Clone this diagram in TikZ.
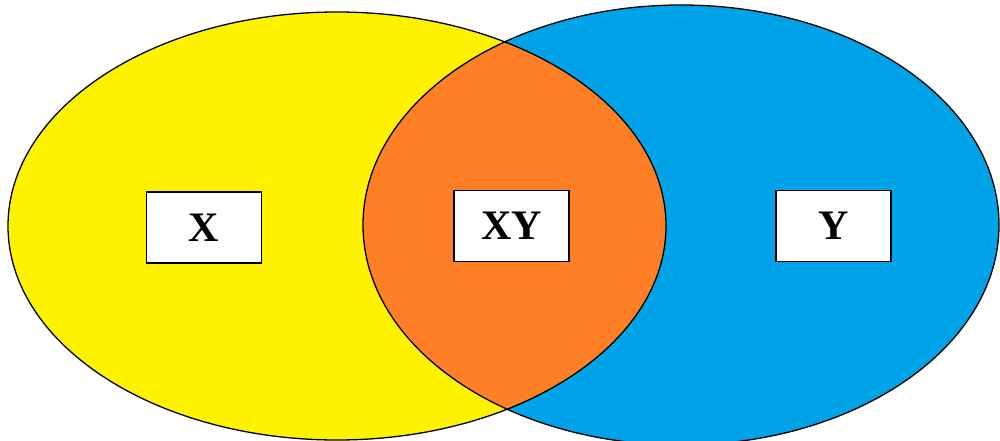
\documentclass[tikz,border=0pt]{standalone}
\usepackage{fontspec}
\setmainfont{Liberation Serif}
\definecolor{vyellow}{HTML}{FFF200}
\definecolor{vblue}{HTML}{00A2E8}
\definecolor{vorange}{HTML}{FF7F27}
\tikzset{
  setline/.style={draw=black, line width=1.3pt},
  labelbox/.style={draw=black, line width=1.2pt, fill=white, minimum width=115pt, minimum height=71pt, inner sep=0pt, font=\fontsize{42}{46}\selectfont\bfseries}
}
\begin{document}
\begin{tikzpicture}[x=1pt,y=-1pt]
\useasboundingbox (0,0) rectangle (1000,441);
\fill[vyellow] (337,226) ellipse [x radius=329pt, y radius=214pt];
\fill[vblue] (681,225) ellipse [x radius=318pt, y radius=220pt];
\begin{scope}
  \clip (337,226) ellipse [x radius=329pt, y radius=214pt];
  \fill[vorange] (681,225) ellipse [x radius=318pt, y radius=220pt];
\end{scope}
\draw[setline] (337,226) ellipse [x radius=329pt, y radius=214pt];
\draw[setline] (681,225) ellipse [x radius=318pt, y radius=220pt];
\node[labelbox] (x) at (204,227.5) {X};
\node[labelbox] (xy) at (511.5,226) {XY};
\node[labelbox] (y) at (833.5,226) {Y};
\end{tikzpicture}
\end{document}
